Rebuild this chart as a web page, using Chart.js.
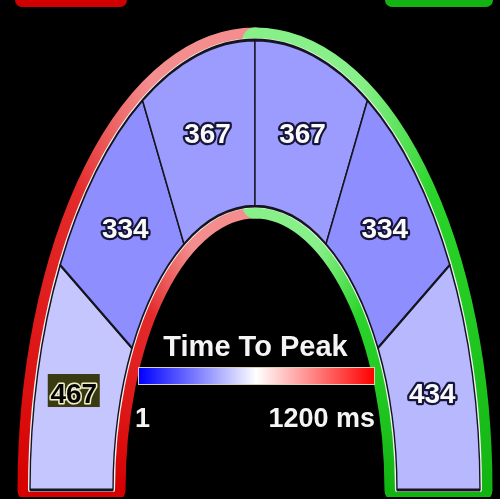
<!DOCTYPE html>
<html>
<head>
<meta charset="utf-8">
<script src="https://cdn.jsdelivr.net/npm/chart.js@4.4.1/dist/chart.umd.min.js"></script>
<style>
  html, body { margin: 0; padding: 0; background: #000; }
  #wrap { position: relative; width: 500px; height: 499px; overflow: hidden; background: #000;
          font-family: "Liberation Sans", Arial, sans-serif; font-weight: bold; color: #f4f4f4; }
  #wrap canvas { position: absolute; left: 0; top: 0; }
  .tab { position: absolute; top: -10px; height: 17px; border-radius: 7px; }
  .txt { position: absolute; white-space: nowrap; }
  #scaleTitle { left: 0; width: 511px; text-align: center; top: 332px; font-size: 29px; line-height: 29px; }
  #scaleBar { position: absolute; left: 138px; top: 367px; width: 235px; height: 16px;
              border: 1px solid #d9d0b0; }
  #scaleMin { left: 135px; top: 405px; font-size: 27px; line-height: 27px; }
  #scaleMax { right: 125px; top: 405px; font-size: 27px; line-height: 27px; }
</style>
</head>
<body>
<div id="wrap">
  <div class="tab" style="left:15px;width:112px;background:#d00000"></div>
  <div class="tab" style="left:385px;width:108px;background:#13b313"></div>
  <canvas id="bullseye" width="500" height="499"></canvas>
  <div class="txt" id="scaleTitle"></div>
  <div id="scaleBar"></div>
  <div class="txt" id="scaleMin"></div>
  <div class="txt" id="scaleMax"></div>
</div>
<script>
// segments run from the left leg, over the top, down to the right leg
const segments = ["Left basal", "Left mid", "Left apical", "Right apical", "Right mid", "Right basal"];
const timeToPeak = [467, 334, 367, 367, 334, 434];
const selectedSegment = 0;

const scaleTitle = "Time To Peak";
const scaleRange = [1, 1200];
const scaleTicks = ["1", "1200 ms"];

const stretch = 2; // the arch is twice as tall as it is wide

// blue -> white -> red colour map
function peakColor(v) {
  const t = (v - scaleRange[0]) / (scaleRange[1] - scaleRange[0]);
  let r, g, b;
  if (t < 0.5) {
    const k = t / 0.5;
    r = g = Math.round(255 * k); b = 255;
  } else {
    const k = (1 - t) / 0.5;
    r = 255; g = b = Math.round(255 * k);
  }
  return "rgb(" + r + "," + g + "," + b + ")";
}

document.getElementById("scaleTitle").textContent = scaleTitle;
document.getElementById("scaleMin").textContent = scaleTicks[0];
document.getElementById("scaleMax").textContent = scaleTicks[1];
document.getElementById("scaleBar").style.background =
  "linear-gradient(to right, " + peakColor(scaleRange[0]) + ", " +
  peakColor((scaleRange[0] + scaleRange[1]) / 2) + ", " + peakColor(scaleRange[1]) + ")";

function rimGradient(ctx, cx, cy, pale, mid, deep) {
  const g = ctx.createConicGradient(-Math.PI / 2, cx, cy);
  g.addColorStop(0, pale);
  g.addColorStop(0.04, pale);
  g.addColorStop(0.085, mid);
  g.addColorStop(0.25, deep);
  g.addColorStop(0.75, deep);
  g.addColorStop(0.915, mid);
  g.addColorStop(0.96, pale);
  g.addColorStop(1, pale);
  return g;
}

function halfPath(ctx, cx, cy, R, r, left) {
  ctx.save();
  ctx.translate(0, cy);
  ctx.scale(1, stretch);
  ctx.translate(0, -cy);
  ctx.beginPath();
  if (left) {
    ctx.arc(cx, cy, R, Math.PI, 1.5 * Math.PI);
    ctx.lineTo(cx, cy - r);
    ctx.arc(cx, cy, r, 1.5 * Math.PI, Math.PI, true);
  } else {
    ctx.arc(cx, cy, R, 2 * Math.PI, 1.5 * Math.PI, true);
    ctx.lineTo(cx, cy - r);
    ctx.arc(cx, cy, r, 1.5 * Math.PI, 2 * Math.PI);
  }
  ctx.closePath();
  ctx.restore();
}

const archPlugin = {
  id: "arch",
  beforeDatasetsDraw(chart) {
    const ctx = chart.ctx;
    const a = chart.getDatasetMeta(0).data[0];
    const cx = a.x, cy = a.y, R = a.outerRadius, r = a.innerRadius;
    const rims = [
      rimGradient(ctx, cx, cy, "#f48e8e", "#e42a2a", "#d60000"),
      rimGradient(ctx, cx, cy, "#88f088", "#2ad42a", "#12b412")
    ];
    ctx.save();
    ctx.beginPath();
    ctx.rect(0, 0, chart.width, cy + 7);
    ctx.clip();
    ctx.lineJoin = "round";
    [true, false].forEach((left, i) => {
      halfPath(ctx, cx, cy, R, r, left);
      ctx.lineWidth = 25;
      ctx.strokeStyle = rims[i];
      ctx.stroke();
    });
    [true, false].forEach(left => {
      halfPath(ctx, cx, cy, R, r, left);
      ctx.lineWidth = 4;
      ctx.strokeStyle = "#f4f4f4";
      ctx.stroke();
    });
    ctx.restore();

    ctx.save();
    ctx.translate(0, cy);
    ctx.scale(1, stretch);
    ctx.translate(0, -cy);
  },
  afterDatasetsDraw(chart) {
    const ctx = chart.ctx;
    ctx.restore();
    const arcs = chart.getDatasetMeta(0).data;
    ctx.save();
    ctx.font = 'bold 28px "Liberation Sans", Arial, sans-serif';
    ctx.textAlign = "center";
    ctx.textBaseline = "middle";
    ctx.lineJoin = "round";
    arcs.forEach((arc, i) => {
      const p = arc.getCenterPoint(true);
      const y = arc.y - stretch * (arc.y - p.y);
      const txt = String(timeToPeak[i]);
      if (i === selectedSegment) {
        const x = p.x - 4;
        ctx.fillStyle = "#3a3a12";
        ctx.fillRect(x - 26, y - 21, 52, 33);
        ctx.lineWidth = 3;
        ctx.strokeStyle = "#f2f0c8";
        ctx.strokeText(txt, x, y);
        ctx.fillStyle = "#050505";
        ctx.fillText(txt, x, y);
      } else {
        ctx.lineWidth = 4.5;
        ctx.strokeStyle = "#16163a";
        ctx.strokeText(txt, p.x, y);
        ctx.fillStyle = "#fafafa";
        ctx.fillText(txt, p.x, y);
      }
    });
    ctx.restore();
  }
};

new Chart(document.getElementById("bullseye"), {
  type: "doughnut",
  data: {
    labels: segments,
    datasets: [{
      data: segments.map(() => 1), // equal slices, value shown as colour and label
      backgroundColor: timeToPeak.map(peakColor),
      borderColor: "#15151f",
      borderWidth: 1.4,
      clip: false
    }]
  },
  options: {
    responsive: false,
    animation: false,
    rotation: -90,
    circumference: 180,
    radius: 225,
    cutout: "63.1%",
    layout: { padding: { left: 30, right: 20, top: 265, bottom: 9 } },
    events: [],
    plugins: {
      legend: { display: false },
      tooltip: { enabled: false }
    }
  },
  plugins: [archPlugin]
});
</script>
</body>
</html>
